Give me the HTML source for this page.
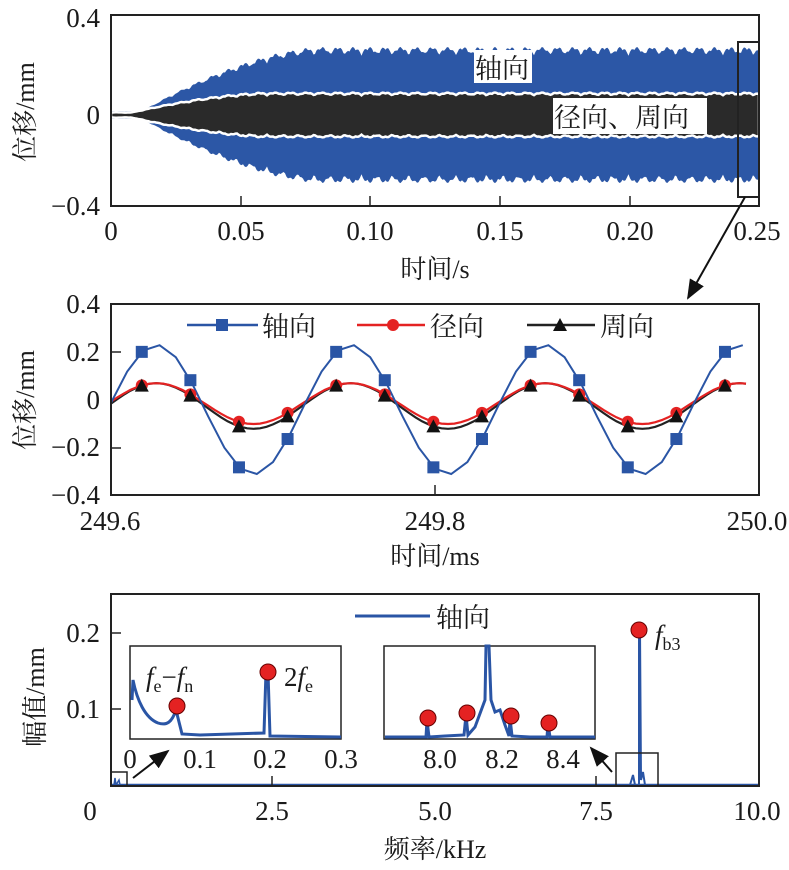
<!DOCTYPE html>
<html><head><meta charset="utf-8"><style>
body{margin:0;background:#fff}
svg{display:block}
text{font-family:"Liberation Serif","Noto Serif CJK SC",serif;fill:#1a1a1a}
</style></head><body>
<svg id="s" width="789" height="870" viewBox="0 0 789 870" xmlns="http://www.w3.org/2000/svg">
<defs>
<marker id="ah2" viewBox="0 0 20 16" markerWidth="20" markerHeight="16" refX="18" refY="8" orient="auto" markerUnits="userSpaceOnUse"><path d="M0,0 L20,8 L0,16 z" fill="#111"/></marker></defs>
<g id="top"></g>
<rect x="111" y="15" width="648" height="191" fill="none" stroke="#222" stroke-width="2"/>
<g font-size="27" text-anchor="end">
<text x="100" y="27">0.4</text><text x="100" y="124">0</text><text x="100" y="215">−0.4</text></g>
<g font-size="27" text-anchor="middle">
<text x="111" y="240">0</text><text x="241" y="240">0.05</text><text x="370" y="240">0.10</text><text x="500" y="240">0.15</text><text x="630" y="240">0.20</text><text x="757" y="240">0.25</text>
<text x="435" y="278" font-size="26">时间/s</text></g>
<text transform="translate(34,112) rotate(-90)" font-size="26" text-anchor="middle">位移/mm</text>
<rect x="474" y="50" width="58" height="33" fill="#fff"/>
<text x="475" y="78" font-size="27">轴向</text>
<rect x="553" y="98" width="154" height="36" fill="#fff"/>
<text x="554" y="127" font-size="27">径向、周向</text>
<rect x="738" y="42" width="21" height="155" fill="none" stroke="#222" stroke-width="2"/>
<line x1="745" y1="197" x2="688" y2="298" stroke="#111" stroke-width="2" marker-end="url(#ah2)"/>
<g id="mid"></g>
<rect x="111" y="304" width="648" height="191" fill="none" stroke="#222" stroke-width="2"/>
<g font-size="27" text-anchor="end">
<text x="100" y="313">0.4</text><text x="100" y="361">0.2</text><text x="100" y="409">0</text><text x="100" y="456">−0.2</text><text x="100" y="504">−0.4</text></g>
<g font-size="27" text-anchor="middle">
<text x="110" y="530">249.6</text><text x="435" y="530">249.8</text><text x="757" y="530">250.0</text>
<text x="435" y="565" font-size="26">时间/ms</text></g>
<text transform="translate(34,400) rotate(-90)" font-size="26" text-anchor="middle">位移/mm</text>
<g id="leg"></g>
<text x="262" y="336" font-size="27">轴向</text>
<text x="430" y="336" font-size="27">径向</text>
<text x="600" y="336" font-size="27">周向</text>
<g id="bot"></g>
<rect x="111" y="594" width="648" height="192" fill="none" stroke="#222" stroke-width="2"/>
<g font-size="27" text-anchor="end"><text x="100" y="642">0.2</text><text x="100" y="718">0.1</text></g>
<g font-size="27" text-anchor="middle">
<text x="90" y="820">0</text><text x="272" y="820">2.5</text><text x="435" y="820">5.0</text><text x="596" y="820">7.5</text><text x="757" y="820">10.0</text>
<text x="435" y="858" font-size="26">频率/kHz</text>
<text x="130" y="768">0</text><text x="200" y="768">0.1</text><text x="270" y="768">0.2</text><text x="341" y="768">0.3</text>
<text x="440" y="768">8.0</text><text x="502" y="768">8.2</text><text x="563" y="768">8.4</text></g>
<text transform="translate(44,697) rotate(-90)" font-size="26" text-anchor="middle">幅值/mm</text>
<line x1="355" y1="616" x2="430" y2="616" stroke="#2a55a5" stroke-width="3"/>
<text x="436" y="627" font-size="27">轴向</text>
<rect x="130" y="646" width="211" height="93" fill="#fff" stroke="#222" stroke-width="1.5"/>
<rect x="384" y="646" width="211" height="93" fill="#fff" stroke="#222" stroke-width="1.5"/>
<path d="M132,700 L133,680 C137,700 145,718 158,723 C167,726 172,722 176,710 L182,734 L200,735 L264,733 L266,672 L268,672 L270,736 L341,737" fill="none" stroke="#2a55a5" stroke-width="3"/>
<path d="M385,737 L426,737 L427,720 L429,737 L445,736 L464,735 L466,715 L468,735 L475,727 L485,700 L486,646 L489,646 L491,700 L495,712 L500,710 L505,725 L509,736 L510,718 L512,736 L530,737 L547,737 L548,724 L550,737 L595,737" fill="none" stroke="#2a55a5" stroke-width="3"/>
<g fill="#e42222" stroke="#600" stroke-width="1"><circle cx="177" cy="706" r="8"/><circle cx="268" cy="672" r="8"/>
<circle cx="428" cy="718" r="8"/><circle cx="467" cy="713" r="8"/><circle cx="511" cy="716" r="8"/><circle cx="549" cy="723" r="8"/><circle cx="639" cy="630" r="8"/></g>
<text x="146" y="686" font-size="27"><tspan font-style="italic">f</tspan><tspan font-size="18" dy="6">e</tspan><tspan dy="-6">−</tspan><tspan font-style="italic">f</tspan><tspan font-size="18" dy="6">n</tspan></text>
<text x="284" y="686" font-size="27">2<tspan font-style="italic">f</tspan><tspan font-size="18" dy="6">e</tspan></text>
<text x="655" y="644" font-size="27"><tspan font-style="italic">f</tspan><tspan font-size="18" dy="6">b3</tspan></text>
<rect x="111" y="772" width="16" height="14" fill="none" stroke="#222" stroke-width="1.5"/>
<rect x="616" y="753" width="42" height="33" fill="none" stroke="#222" stroke-width="1.5"/>
<line x1="133" y1="778" x2="168" y2="751" stroke="#111" stroke-width="2" marker-end="url(#ah2)"/>
<line x1="612" y1="772" x2="591" y2="748" stroke="#111" stroke-width="2" marker-end="url(#ah2)"/>
</svg>
<script>
var NS="http://www.w3.org/2000/svg";
function el(p,t,a){var e=document.createElementNS(NS,t);for(var k in a)e.setAttribute(k,a[k]);document.getElementById(p).appendChild(e);return e;}
function env(amp,ramp0,ramp1,wig,first){var up=[],dn=[];for(var x=111;x<=759;x+=1.5){var t=(x-111)/648*0.25;var g;if(t<ramp0)g=first;else{var u=Math.min(1,(t-ramp0)/(ramp1-ramp0));g=first+(1-first)*(1-Math.pow(1-u,1.6));}
var w=wig*(Math.abs(Math.sin(x*0.2))+0.5*Math.abs(Math.sin(x*0.53)));up.push([x,amp*g+w*g]);dn.push([x,-amp*g-w*g]);}return [up,dn];}
function Y1(v){return 115-v/0.4*100;}
function pathOf(up,dn,Y){var d="M"+up.map(function(p){return p[0]+","+Y(p[1]).toFixed(1)}).join(" L");for(var i=dn.length-1;i>=0;i--)d+=" L"+dn[i][0]+","+Y(dn[i][1]).toFixed(1);return d+"Z";}
var b=env(0.235,0.012,0.08,0.025,0.06);
el("top","path",{d:pathOf(b[0],b[1],Y1),fill:"#2c57a6"});
var k=env(0.078,0.008,0.06,0.008,0.12);
el("top","path",{d:pathOf(k[0],k[1],Y1),fill:"#2a2a2a",stroke:"#fff","stroke-width":2.5});
[241,370,500,630].forEach(function(x){el("top","line",{x1:x,y1:206,x2:x,y2:196,stroke:"#222","stroke-width":1.5});});
function X2(t){return 111+(t-249.6)/0.4*648;}
function Y2(v){return 400-v/0.4*96;}
var T=0.12,t0=249.598;
function sb(t){return -0.04+0.27*Math.sin(2*Math.PI*(t-t0)/T);}
function sr(t){return -0.015+0.085*Math.sin(2*Math.PI*(t-t0)/T);}
function sk(t){return -0.025+0.095*Math.sin(2*Math.PI*(t-t0)/T);}
function line(f,dt,end){var pts=[];for(var t=249.6;t<=end;t+=dt)pts.push(X2(t).toFixed(1)+","+Y2(f(t)).toFixed(1));return pts.join(" ");}
el("mid","polyline",{points:line(sk,0.004,249.993),fill:"none",stroke:"#222","stroke-width":2.2});
el("mid","polyline",{points:line(sr,0.004,249.993),fill:"none",stroke:"#e42222","stroke-width":2.2});
el("mid","polyline",{points:line(sb,0.01,249.993),fill:"none",stroke:"#2a55a5","stroke-width":2});
for(var i=0;i<13;i++){var t=249.619+i*0.03;var x=X2(t);
el("mid","circle",{cx:x,cy:Y2(sr(t)),r:6,fill:"#e42222"});
el("mid","path",{d:"M"+(x-7)+","+(Y2(sk(t))+6)+" L"+x+","+(Y2(sk(t))-7)+" L"+(x+7)+","+(Y2(sk(t))+6)+"Z",fill:"#111"});
el("mid","rect",{x:x-6,y:Y2(sb(t))-6,width:12,height:12,fill:"#2a55a5"});}
el("mid","line",{x1:435,y1:495,x2:435,y2:485,stroke:"#222","stroke-width":1.5});
[352,448].forEach(function(y){el("mid","line",{x1:111,y1:y,x2:121,y2:y,stroke:"#222","stroke-width":1.5});});
el("leg","line",{x1:187,y1:325,x2:258,y2:325,stroke:"#2a55a5","stroke-width":2.5});
el("leg","rect",{x:216,y:319,width:12,height:12,fill:"#2a55a5"});
el("leg","line",{x1:357,y1:325,x2:425,y2:325,stroke:"#e42222","stroke-width":2.5});
el("leg","circle",{cx:393,cy:325,r:6,fill:"#e42222"});
el("leg","line",{x1:527,y1:325,x2:595,y2:325,stroke:"#222","stroke-width":2.5});
el("leg","path",{d:"M553,331 L560,318 L567,331Z",fill:"#111"});
el("bot","line",{x1:111,y1:785,x2:759,y2:785,stroke:"#2a55a5","stroke-width":2.5});
el("bot","path",{d:"M630,785 L633,775 L635,785 L639,785 L639,630 L640,630 L641,780 L643,772 L645,785",fill:"none",stroke:"#2a55a5","stroke-width":2});
el("bot","path",{d:"M114,785 L115,778 L116,785 L119,780 L120,785",fill:"none",stroke:"#2a55a5","stroke-width":1.5});
[272,596].forEach(function(x){el("bot","line",{x1:x,y1:786,x2:x,y2:776,stroke:"#222","stroke-width":1.5});});
[633,709].forEach(function(y){el("bot","line",{x1:111,y1:y,x2:121,y2:y,stroke:"#222","stroke-width":1.5});});
[200,270,440,502,563].forEach(function(x){el("bot","line",{x1:x,y1:739,x2:x,y2:732,stroke:"#222","stroke-width":1});});
</script>
</body></html>
